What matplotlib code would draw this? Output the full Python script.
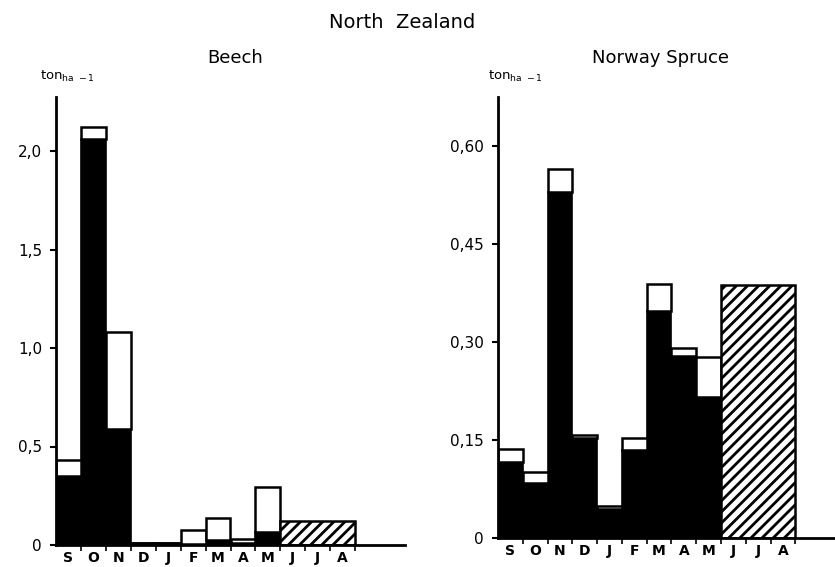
import matplotlib
matplotlib.use("Agg")
import matplotlib.pyplot as plt
import numpy as np

months = ["S", "O", "N", "D", "J", "F", "M", "A", "M", "J", "J", "A"]

# Beech, ton ha-1 (black part and total height of each bar)
beech_black = [0.35, 2.06, 0.59, 0.01, 0.01, 0.005, 0.025, 0.01, 0.066]
beech_total = [0.43, 2.12, 1.08, 0.012, 0.012, 0.076, 0.137, 0.03, 0.295]
beech_summer = 0.12  # J-J-A, hatched

# Norway Spruce, ton ha-1
spruce_black = [0.116, 0.084, 0.53, 0.153, 0.044, 0.135, 0.348, 0.279, 0.216]
spruce_total = [0.136, 0.101, 0.565, 0.158, 0.049, 0.153, 0.389, 0.291, 0.277]
spruce_summer = 0.387

beech_ticks = [0, 0.5, 1.0, 1.5, 2.0]
beech_ticklabels = ["0", "0,5", "1,0", "1,5", "2,0"]
spruce_ticks = [0, 0.15, 0.30, 0.45, 0.60]
spruce_ticklabels = ["0", "0,15", "0,30", "0,45", "0,60"]

plt.rcParams["font.family"] = "DejaVu Sans"
plt.rcParams["hatch.linewidth"] = 2.0

fig = plt.figure(figsize=(8.35, 5.67), dpi=100)
ax1 = fig.add_axes([56 / 835, 1 - 545 / 567, 349 / 835, 448 / 567])
ax2 = fig.add_axes([498 / 835, 1 - 538 / 567, 337 / 835, 441 / 567])


def draw(ax, black, total, summer, ylim, xlim, ticks, ticklabels,
         title, title_x, unit_x):
    x = np.arange(len(black))
    ax.bar(x, black, width=1.0, color="black", edgecolor="black", lw=1.2)
    ax.bar(x, np.array(total) - np.array(black), bottom=black, width=1.0,
           color="white", edgecolor="black", lw=1.8)
    # summer months J-J-A as one hatched block
    ax.bar(10, summer, width=3.0, color="white", edgecolor="black",
           hatch="///", lw=1.8)
    ax.set_xlim(*xlim)
    ax.set_ylim(0, ylim)
    for s in ["top", "right"]:
        ax.spines[s].set_visible(False)
    for s in ["left", "bottom"]:
        ax.spines[s].set_linewidth(2)
    ax.set_yticks(ticks)
    ax.set_yticklabels(ticklabels, fontsize=11)
    ax.tick_params(axis="y", length=4, width=1.5, direction="out", pad=6)
    # month letters between boundary ticks
    ax.set_xticks(np.arange(12))
    ax.set_xticklabels(months, fontsize=10, fontweight="bold")
    ax.set_xticks(np.arange(12) + 0.5, minor=True)
    ax.tick_params(axis="x", which="major", length=0, pad=4)
    ax.tick_params(axis="x", which="minor", length=4, width=1.2, direction="out")
    fig.text(unit_x, 1 - 76 / 567, r"ton$_{\mathregular{ha\ -1}}$",
             ha="left", va="center", fontsize=9.5)
    fig.text(title_x, 1 - 58 / 567, title, ha="center", va="center", fontsize=13)


draw(ax1, beech_black, beech_total, beech_summer, 448 / 197, (-0.5, 13.5),
     beech_ticks, beech_ticklabels, "Beech", 235 / 835, 40 / 835)
draw(ax2, spruce_black, spruce_total, spruce_summer, 441 / 653, (-0.5, 13.1),
     spruce_ticks, spruce_ticklabels, "Norway Spruce", 660 / 835, 488 / 835)

fig.text(402 / 835, 1 - 22 / 567, "North  Zealand", ha="center", va="center",
         fontsize=14)

fig.savefig("out.png", dpi=100)
